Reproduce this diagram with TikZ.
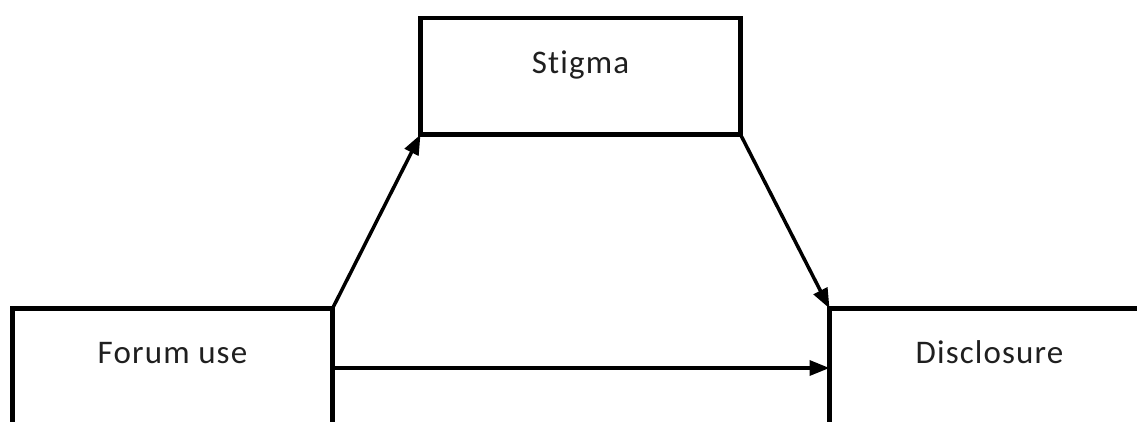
\documentclass[tikz,border=0pt]{standalone}
\usepackage{fontspec}
\setmainfont{Carlito}[Ligatures=NoCommon, LetterSpace=3.5]
\usetikzlibrary{arrows.meta}

\tikzset{
  box/.style={draw, line width=4.2pt, rectangle, anchor=north west, outer sep=0pt,
    minimum width=320pt, inner xsep=0pt, inner ysep=34pt, text height=21pt,
    text=black!88, font=\fontsize{33}{38}\selectfont},
  link/.style={line width=3.5pt, -{Triangle[length=20pt,width=15pt]}}
}

\begin{document}
\begin{tikzpicture}[x=1pt, y=-1pt]
    \useasboundingbox (0,0) rectangle (1137,421);
    \clip (0,0) rectangle (1137,421);
    % boxes
    \node[box, text depth=27.5pt] (stigma) at (420.5,18) {Stigma};
    \node[box, text depth=30pt] (forum) at (12.5,308.5) {Forum use};
    \node[box, text depth=30pt] (discl) at (829.5,308.5) {Disclosure};
    % paths
    \draw[link] (forum.north east) -- (stigma.south west);
    \draw[link] (stigma.south east) -- (discl.north west);
    \draw[link] (forum.east) -- (discl.west);
\end{tikzpicture}
\end{document}
